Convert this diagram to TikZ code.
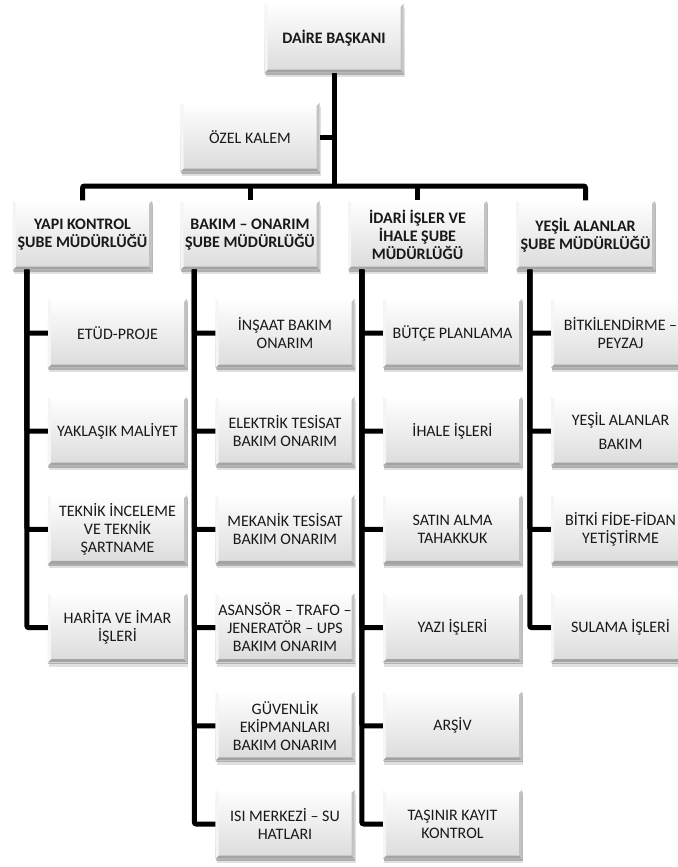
\documentclass[tikz,border=0pt]{standalone}
\usepackage{fontspec}
\setmainfont{Carlito}
\usetikzlibrary{shadows}
\begin{document}
\begin{tikzpicture}[x=1bp,y=-1bp,
  box/.style={rectangle, minimum width=139bp, minimum height=69bp, inner xsep=0bp, inner ysep=1bp,
    align=center, font=\fontsize{16bp}{18bp}\selectfont, text=black!90,
    top color=white, bottom color=black!14,
    drop shadow={shadow xshift=0.5bp, shadow yshift=-2bp, opacity=0.22, fill=black},
    drop shadow={shadow xshift=1bp, shadow yshift=-4.5bp, opacity=0.12, fill=black},
    path picture={
      \fill[black!36] (path picture bounding box.south west) -- (path picture bounding box.south east)
        -- ([xshift=-3bp,yshift=3bp]path picture bounding box.south east)
        -- ([xshift=3bp,yshift=3bp]path picture bounding box.south west) -- cycle;
      \fill[black!24] (path picture bounding box.south east) -- (path picture bounding box.north east)
        -- ([xshift=-3bp,yshift=-3bp]path picture bounding box.north east)
        -- ([xshift=-3bp,yshift=3bp]path picture bounding box.south east) -- cycle;
      \fill[white] (path picture bounding box.north west) -- (path picture bounding box.north east)
        -- ([xshift=-3bp,yshift=-3bp]path picture bounding box.north east)
        -- ([xshift=3bp,yshift=-3bp]path picture bounding box.north west) -- cycle;
      \fill[black!4] (path picture bounding box.north west) -- (path picture bounding box.south west)
        -- ([xshift=3bp,yshift=3bp]path picture bounding box.south west)
        -- ([xshift=3bp,yshift=-3bp]path picture bounding box.north west) -- cycle;
    }},
  hbox/.style={box, font=\fontsize{16bp}{18bp}\selectfont\bfseries},
  conn/.style={line width=5bp, black, rounded corners=2bp}]
\useasboundingbox (0,0) rectangle (678,867);
\coordinate (busy) at (0,186);
% top levels
\node[hbox] (top) at (334,38) {DAİRE BAŞKANI};
\node[box] (ozel) at (250,137) {ÖZEL KALEM};
\node[hbox] (p1) at (82.5,235) {YAPI KONTROL\\ŞUBE MÜDÜRLÜĞÜ};
\node[hbox] (p2) at (250,235) {BAKIM – ONARIM\\ŞUBE MÜDÜRLÜĞÜ};
\node[hbox] (p3) at (417.5,235) {İDARİ İŞLER VE\\İHALE ŞUBE\\MÜDÜRLÜĞÜ};
\node[hbox] (p4) at (585.5,235) {YEŞİL ALANLAR\\ŞUBE MÜDÜRLÜĞÜ};
% column 1
\node[box] (a1) at (117.5,333) {ETÜD-PROJE};
\node[box] (a2) at (117.5,431.2) {YAKLAŞIK MALİYET};
\node[box] (a3) at (117.5,529.4) {TEKNİK İNCELEME\\VE TEKNİK\\ŞARTNAME};
\node[box] (a4) at (117.5,627.6) {HARİTA VE İMAR\\İŞLERİ};
% column 2
\node[box] (b1) at (285,333) {İNŞAAT BAKIM\\ONARIM};
\node[box] (b2) at (285,431.2) {ELEKTRİK TESİSAT\\BAKIM ONARIM};
\node[box] (b3) at (285,529.4) {MEKANİK TESİSAT\\BAKIM ONARIM};
\node[box] (b4) at (285,627.6) {ASANSÖR – TRAFO –\\JENERATÖR – UPS\\BAKIM ONARIM};
\node[box] (b5) at (285,725.8) {GÜVENLİK\\EKİPMANLARI\\BAKIM ONARIM};
\node[box] (b6) at (285,824) {ISI MERKEZİ – SU\\HATLARI};
% column 3
\node[box] (c1) at (452.5,333) {BÜTÇE PLANLAMA};
\node[box] (c2) at (452.5,431.2) {İHALE İŞLERİ};
\node[box] (c3) at (452.5,529.4) {SATIN ALMA\\TAHAKKUK};
\node[box] (c4) at (452.5,627.6) {YAZI İŞLERİ};
\node[box] (c5) at (452.5,725.8) {ARŞİV};
\node[box] (c6) at (452.5,824) {TAŞINIR KAYIT\\KONTROL};
% column 4
\node[box] (d1) at (620.5,333) {BİTKİLENDİRME –\\PEYZAJ};
\node[box] (d2) at (620.5,431.2) {YEŞİL ALANLAR\\[6bp]BAKIM};
\node[box] (d3) at (620.5,529.4) {BİTKİ FİDE-FİDAN\\YETİŞTİRME};
\node[box] (d4) at (620.5,627.6) {SULAMA İŞLERİ};
% connectors
\draw[conn] (top.south) -- (top.south |- busy);
\draw[conn] (ozel.east) -- (ozel.east -| top.south);
\draw[conn] (p1.north) -- (p1.north |- busy) -- (p4.north |- busy) -- (p4.north);
\draw[conn] (p2.north) -- (p2.north |- busy);
\draw[conn] (p3.north) -- (p3.north |- busy);
\foreach \c in {a1,a2,a3,a4}
  \draw[conn] ([xshift=14bp]p1.south west) |- (\c.west);
\foreach \c in {b1,b2,b3,b4,b5,b6}
  \draw[conn] ([xshift=14bp]p2.south west) |- (\c.west);
\foreach \c in {c1,c2,c3,c4,c5,c6}
  \draw[conn] ([xshift=14bp]p3.south west) |- (\c.west);
\foreach \c in {d1,d2,d3,d4}
  \draw[conn] ([xshift=14bp]p4.south west) |- (\c.west);
\end{tikzpicture}
\end{document}
